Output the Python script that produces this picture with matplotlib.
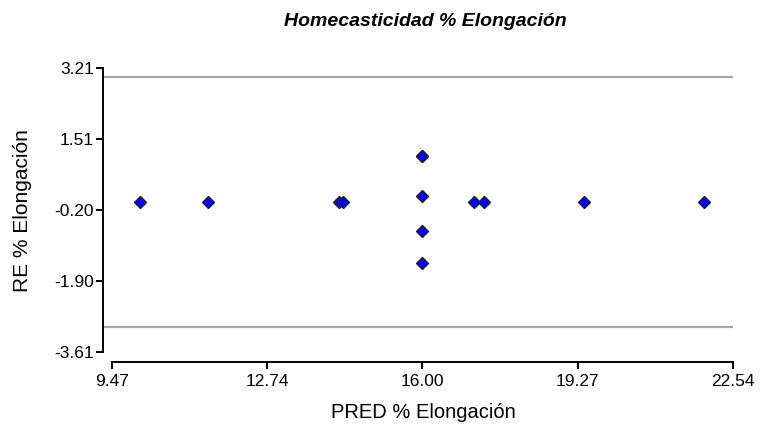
import matplotlib.pyplot as plt
import numpy as np

plt.rcParams['font.family'] = ['Liberation Sans', 'DejaVu Sans']

# predicted vs residual values
pred = [10.06, 11.48, 14.25, 14.33, 16.0, 16.0, 16.0, 16.0, 16.0, 17.08, 17.29, 19.41, 21.93]
resid = [0.0, 0.0, 0.0, 0.0, 1.10, 1.10, 0.13, -0.71, -1.47, 0.0, 0.0, 0.0, 0.0]
limits = [3.0, -3.0]
xticks = [9.47, 12.74, 16.00, 19.27, 22.54]
yticks = [-3.61, -1.90, -0.20, 1.51, 3.21]

fig = plt.figure(figsize=(7.6, 4.25), dpi=100)
ax = fig.add_axes([0.1355, 0.148, 0.829, 0.692])

for lim in limits:
    ax.axhline(lim, color='#a6a6a6', lw=1.6, zorder=1)

ax.plot(pred, resid, 'D', ms=6, mfc='#0000ff', mec='#202020', mew=1.0, zorder=3)

ax.set_xlim(9.28, 22.54)
ax.set_ylim(-3.85, 3.21)
ax.spines['top'].set_visible(False)
ax.spines['right'].set_visible(False)
ax.spines['bottom'].set_bounds(xticks[0], xticks[-1])
ax.spines['left'].set_bounds(yticks[0], yticks[-1])
for s in ('bottom', 'left'):
    ax.spines[s].set_linewidth(1.4)

ax.set_xticks(xticks)
ax.set_xticklabels(['%.2f' % v for v in xticks])
ax.set_yticks(yticks)
ax.set_yticklabels(['%.2f' % v for v in yticks])
ax.tick_params(direction='out', length=5, width=1.4, labelsize=12.5, colors='black')
ax.tick_params(axis='x', pad=3.5)
ax.tick_params(axis='y', pad=1.5)

fig.text(423 / 760, 1 - 412 / 425, 'PRED % Elongación', ha='center', va='center', fontsize=14.5)
fig.text(23 / 760, 1 - 211 / 425, 'RE % Elongación', ha='center', va='center',
         rotation=90, fontsize=15)
fig.text(425 / 760, 1 - 22 / 425, 'Homecasticidad % Elongación', ha='center', va='center',
         fontsize=14, fontweight='bold', fontstyle='italic')

fig.savefig('out.png', dpi=100, facecolor='white')
